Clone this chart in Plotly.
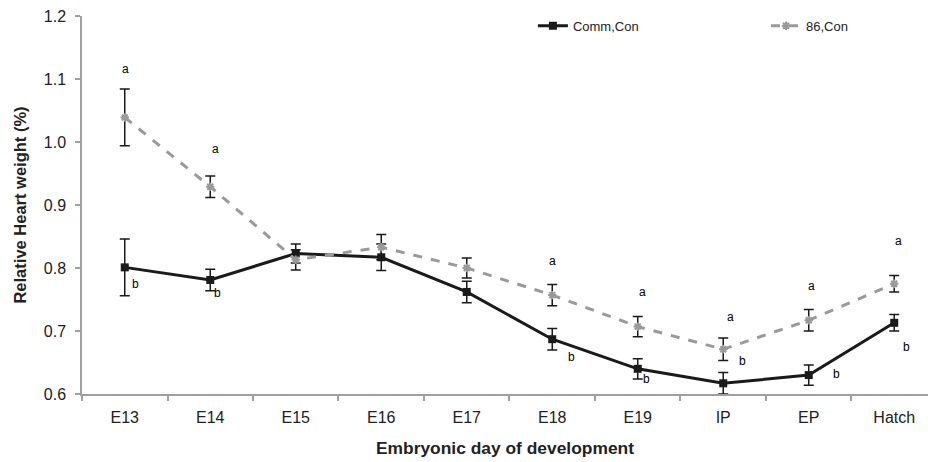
import plotly.graph_objects as go

categories = ["E13", "E14", "E15", "E16", "E17", "E18", "E19", "IP", "EP", "Hatch"]
comm_con = [0.801, 0.781, 0.823, 0.817, 0.762, 0.687, 0.640, 0.617, 0.630, 0.713]
comm_se = [0.045, 0.017, 0.015, 0.021, 0.017, 0.017, 0.016, 0.017, 0.016, 0.013]
s86_con = [1.039, 0.929, 0.813, 0.833, 0.800, 0.757, 0.707, 0.671, 0.717, 0.775]
s86_se = [0.045, 0.017, 0.016, 0.020, 0.016, 0.017, 0.016, 0.018, 0.017, 0.013]

# significance letters: (category index, x offset, y value)
letters_a = [(0, 0.01, 1.116), (1, 0.06, 0.989), (5, 0.0, 0.811), (6, 0.06, 0.762),
             (7, 0.08, 0.723), (8, 0.03, 0.771), (9, 0.05, 0.843)]
letters_b = [(0, 0.12, 0.775), (1, 0.09, 0.761), (5, 0.23, 0.658), (6, 0.10, 0.624),
             (7, 0.23, 0.652), (8, 0.32, 0.631), (9, 0.14, 0.675)]

font_family = "Liberation Sans, Arial, sans-serif"
txt = "#222222"

fig = go.Figure()
fig.add_trace(go.Scatter(
    x=categories, y=comm_con, name="Comm,Con", mode="lines+markers", legend="legend",
    line=dict(color="#1a1a1a", width=3),
    marker=dict(symbol="square", size=8, color="#1a1a1a"),
    error_y=dict(type="data", array=comm_se, color="#1a1a1a", thickness=1.5, width=5),
))
fig.add_trace(go.Scatter(
    x=categories, y=s86_con, name="86,Con", mode="lines+markers", legend="legend2",
    line=dict(color="#9a9a9a", width=3, dash="dash"),
    marker=dict(symbol="asterisk-open", size=7, color="#9a9a9a", line=dict(color="#9a9a9a", width=2)),
    error_y=dict(type="data", array=s86_se, color="#1a1a1a", thickness=1.5, width=5),
))

annotations = []
for (i, dx, yv) in letters_a:
    annotations.append(dict(x=i + dx, y=yv, xref="x", yref="y", text="a", showarrow=False,
                            font=dict(size=12, color="black", family=font_family)))
for (i, dx, yv) in letters_b:
    annotations.append(dict(x=i + dx, y=yv, xref="x", yref="y", text="b", showarrow=False,
                            font=dict(size=12, color="black", family=font_family)))

leg_common = dict(orientation="h", yanchor="middle", xanchor="left", y=0.974,
                  font=dict(size=13, color=txt, family=font_family),
                  bgcolor="rgba(0,0,0,0)")

fig.update_layout(
    width=928, height=462,
    margin=dict(l=82, r=0, t=16, b=68),
    paper_bgcolor="white", plot_bgcolor="white",
    font=dict(family=font_family, color=txt),
    showlegend=True,
    legend=dict(x=0.533, **leg_common),
    legend2=dict(x=0.8085, **leg_common),
    annotations=annotations,
)
fig.update_xaxes(
    type="category", range=[-0.5, 9.395], tickson="boundaries",
    showline=True, linecolor="#a0a0a0", linewidth=1.5,
    ticks="outside", ticklen=5, tickcolor="#a0a0a0", tickwidth=1.5,
    ticklabelstandoff=8,
    showgrid=False, zeroline=False,
    tickfont=dict(size=16, color=txt),
    title=dict(text="<b>Embryonic day of development</b>", font=dict(size=17.4, color=txt), standoff=17),
)
fig.update_yaxes(
    range=[0.6, 1.2], dtick=0.1, tickformat=".1f",
    showline=True, linecolor="#a0a0a0", linewidth=1.5,
    ticks="outside", ticklen=5, tickcolor="#a0a0a0", tickwidth=1.5,
    ticklabelstandoff=6,
    showgrid=False, zeroline=False,
    tickfont=dict(size=16, color=txt),
    title=dict(text="<b>Relative Heart weight (%)</b>", font=dict(size=16.5, color=txt), standoff=13),
)

fig.write_html("out.html", config={"displayModeBar": False},
               post_script="document.body.style.margin='0';")
